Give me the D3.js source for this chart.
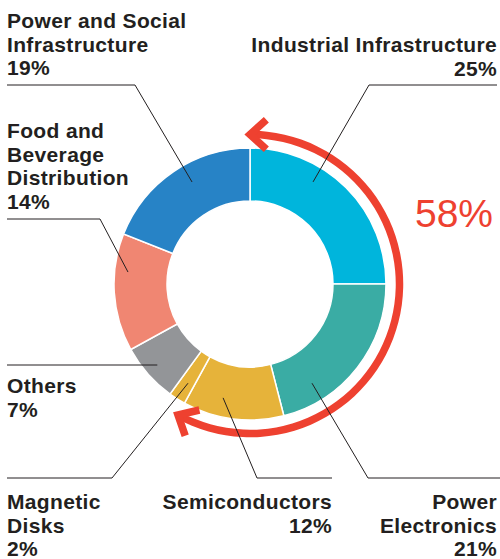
<!DOCTYPE html>
<html>
<head>
<meta charset="utf-8">
<script src="https://cdn.jsdelivr.net/npm/d3@7"></script>
<style>
  body { margin: 0; background: #fff; }
  text { font-family: "Liberation Sans", Arial, sans-serif; fill: #231f20; }
</style>
</head>
<body>
<div id="chart"></div>
<script>
// data
var categories = ["Industrial Infrastructure", "Power Electronics", "Semiconductors",
  "Magnetic Disks", "Others", "Food and Beverage Distribution", "Power and Social Infrastructure"];
var shares = [25, 21, 12, 2, 7, 14, 19];
var colors = ["#00b5dc", "#3aaca4", "#e6b33a", "#e6b33a", "#939598", "#f08672", "#2783c6"];
var labelLines = [
  ["Industrial Infrastructure", "25%"],
  ["Power", "Electronics", "21%"],
  ["Semiconductors", "12%"],
  ["Magnetic", "Disks", "2%"],
  ["Others", "7%"],
  ["Food and", "Beverage", "Distribution", "14%"],
  ["Power and Social", "Infrastructure", "19%"]
];
var highlightCount = 3; // first three slices make up the red arc
var highlightLabel = "58%";

// label placement (x, first baseline, anchor, leader line y/elbow, anchor angle+radius)
var layout = [
  {x: 497, y: 52,  anchor: "end",   ly: 85,  lx: 497, ex: 369, ang: 31.7,  r: 120},
  {x: 497, y: 509, anchor: "end",   ly: 478, lx: 500, ex: 368, ang: 148,   r: 117},
  {x: 332, y: 509, anchor: "end",   ly: 478, lx: 332, ex: 257, ang: 193.3, r: 117},
  {x: 7,   y: 509, anchor: "start", ly: 478, lx: 7,   ex: 112, ang: 212,   r: 117},
  {x: 7,   y: 393, anchor: "start", ly: 365, lx: 7,   ex: null, ang: 228.9, r: 123},
  {x: 7,   y: 138, anchor: "start", ly: 219, lx: 7,   ex: 100, ang: 275.6, r: 122.6},
  {x: 7,   y: 28,  anchor: "start", ly: 85,  lx: 7,   ex: 135, ang: 330.4, r: 117.3}
];

var width = 500, height = 559;
var cx = 250, cy = 284;
var outerR = 136, innerR = 83;
var arcR = 149.5;
var red = "#ee4130";

var svg = d3.select("#chart").append("svg")
  .attr("width", width)
  .attr("height", height);

var g = svg.append("g").attr("transform", "translate(" + cx + "," + cy + ")");

var pie = d3.pie().sort(null).value(function(d) { return d; });
var arcs = pie(shares);
var arc = d3.arc().innerRadius(innerR).outerRadius(outerR);

g.selectAll(".slice")
  .data(arcs)
  .enter().append("path")
  .attr("class", "slice")
  .attr("d", arc)
  .attr("fill", function(d, i) { return colors[i]; })
  .attr("stroke", "#fff")
  .attr("stroke-width", 1.5);

// red arc covering the highlighted slices
var endAngle = arcs[highlightCount - 1].endAngle;
var redArc = d3.arc().innerRadius(arcR - 3.75).outerRadius(arcR + 3.75)
  .startAngle(0).endAngle(endAngle);
g.append("path").attr("d", redArc()).attr("fill", red);

function pt(a, r) { return [r * Math.sin(a), -r * Math.cos(a)]; }
function arrowHead(a, dir) {
  // dir: +1 clockwise, -1 counter-clockwise
  var tip = pt(a, arcR);
  var tx = Math.cos(a) * dir, ty = Math.sin(a) * dir;
  var len = 22, spread = 42 * Math.PI / 180;
  var pts = [-spread, spread].map(function(s) {
    var bx = -tx, by = -ty;
    return [tip[0] + len * (bx * Math.cos(s) - by * Math.sin(s)),
            tip[1] + len * (bx * Math.sin(s) + by * Math.cos(s))];
  });
  g.append("path")
    .attr("d", d3.line()([pts[0], tip, pts[1]]))
    .attr("fill", "none")
    .attr("stroke", red)
    .attr("stroke-width", 7.5)
    .attr("stroke-linejoin", "miter");
}
arrowHead(0, -1);
arrowHead(endAngle, 1);

// leader lines
var leaders = svg.append("g");
layout.forEach(function(L, i) {
  var a = L.ang * Math.PI / 180;
  var p = pt(a, L.r);
  var end = [cx + p[0], cy + p[1]];
  var pts = [[L.lx, L.ly]];
  if (L.ex !== null) pts.push([L.ex, L.ly]);
  pts.push(L.ex !== null ? end : [end[0], L.ly]);
  leaders.append("path")
    .attr("d", d3.line()(pts))
    .attr("fill", "none")
    .attr("stroke", "#231f20")
    .attr("stroke-width", 1);
});

// labels
var labels = svg.append("g");
layout.forEach(function(L, i) {
  var t = labels.append("text")
    .attr("text-anchor", L.anchor)
    .attr("font-size", 21)
    .attr("font-weight", "bold")
    .attr("letter-spacing", 0.35);
  labelLines[i].forEach(function(line, k) {
    t.append("tspan")
      .attr("x", L.x)
      .attr("y", L.y + k * 23.6)
      .text(line);
  });
});

svg.append("text")
  .attr("x", 493)
  .attr("y", 227)
  .attr("text-anchor", "end")
  .attr("font-size", 39)
  .style("fill", red)
  .text(highlightLabel);
</script>
</body>
</html>
